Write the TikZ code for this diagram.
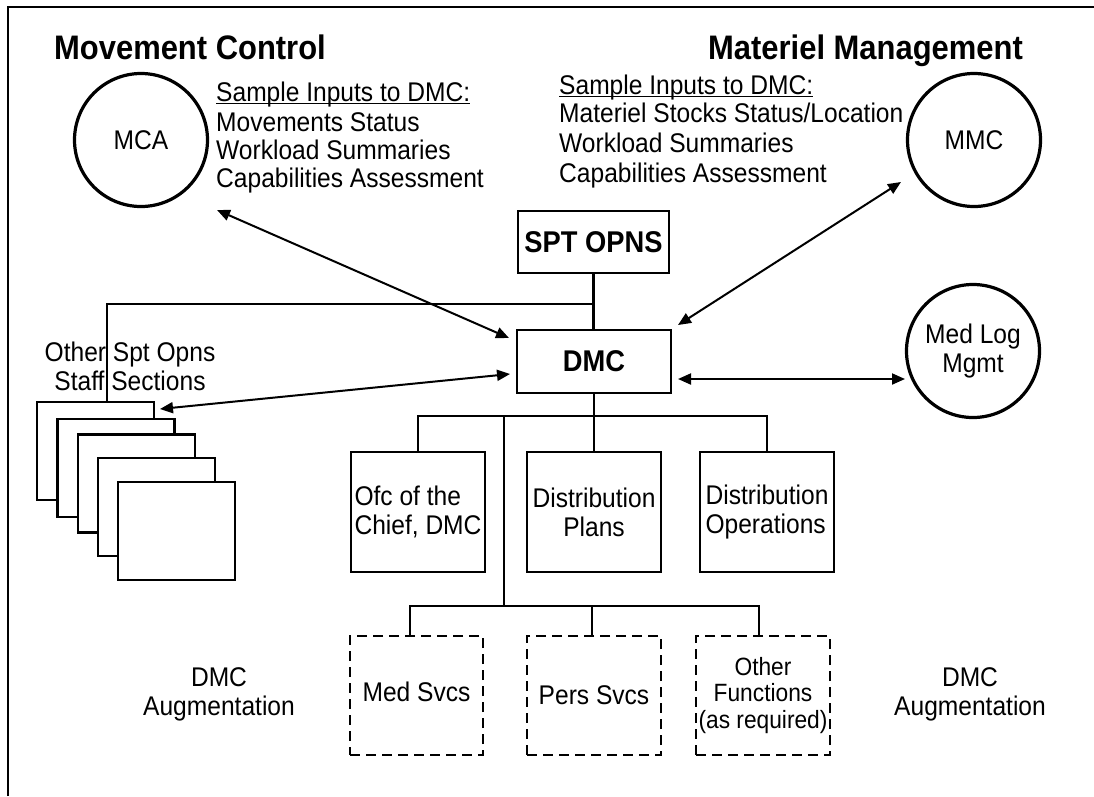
\documentclass[tikz,border=0pt]{standalone}
\usepackage{fontspec}
\setmainfont{Liberation Sans}[FakeStretch=0.91]
\usetikzlibrary{arrows.meta}
\newcommand\bodyf{\fontsize{27pt}{29pt}\selectfont}
\newcommand\smallf{\fontsize{25pt}{26.5pt}\selectfont}
\newcommand\headf{\fontsize{30pt}{32pt}\selectfont\bfseries}
\newcommand\titlef{\fontsize{34pt}{36pt}\selectfont\bfseries}
\newcommand\ulx[1]{\setbox0\hbox{#1}\rlap{\rule[-3.2pt]{\wd0}{1.5pt}}\box0}
\begin{document}
\begin{tikzpicture}[x=1pt,y=-1pt,
  txt/.style={inner sep=0pt, font=\bodyf},
  orgbox/.style={draw, line width=2.3pt, inner sep=2pt, minimum width=134pt, minimum height=120pt, font=\bodyf, align=center},
  dashbox/.style={orgbox, minimum height=119pt, dash pattern=on 10pt off 6pt, line width=2.6pt},
  topbox/.style={draw, line width=2.3pt, font=\headf, inner sep=0pt},
  unit/.style={circle, draw, line width=3.2pt, minimum size=133pt, inner sep=0pt, font=\bodyf, align=center},
  staff/.style={draw, fill=white, line width=2.3pt, minimum width=117pt, minimum height=98pt, inner sep=0pt},
  link/.style={line width=2.3pt},
  dbl/.style={line width=2pt, {Triangle[length=13pt,width=11pt]}-{Triangle[length=13pt,width=11pt]}}
]
\useasboundingbox (0,0) rectangle (1094,796);
% frame
\draw[line width=1.4pt] (8,796) -- (8,7) -- (1094,7);

% titles
\node[anchor=base west, inner sep=0pt, font=\titlef] (mvt) at (54,59) {Movement Control};
\node[anchor=base west, inner sep=0pt, font=\titlef] (mat) at (708,59) {Materiel Management};

% sample inputs (left)
\node[txt, anchor=base west] (ls0) at (216,101) {\ulx{Sample Inputs to DMC:}};
\node[txt, anchor=base west] (ls1) at (216,131) {Movements Status};
\node[txt, anchor=base west] (ls2) at (216,159) {Workload Summaries};
\node[txt, anchor=base west] (ls3) at (216,187) {Capabilities Assessment};
% sample inputs (right)
\node[txt, anchor=base west] (rs0) at (559,94) {\ulx{Sample Inputs to DMC:}};
\node[txt, anchor=base west] (rs1) at (559,122) {Materiel Stocks Status/Location};
\node[txt, anchor=base west] (rs2) at (559,152) {Workload Summaries};
\node[txt, anchor=base west] (rs3) at (559,182) {Capabilities Assessment};

% circles
\node[unit] (mca) at (141,140) {MCA};
\node[unit] (mmc) at (974,140) {MMC};
\node[unit] (mlm) at (973,351) {Med Log\\Mgmt};

% central boxes
\node[topbox, minimum width=151pt, minimum height=62pt] (spt) at (593.5,242) {SPT OPNS};
\node[topbox, minimum width=154pt, minimum height=63pt] (dmc) at (594,361.5) {DMC};

% connectors top
\coordinate (j1) at (593.5,304);
\coordinate (s1top) at (107,402);
\draw[link] (spt.south) -- (spt.south |- dmc.north);
\draw[link] (j1) -| (s1top);

% staff sections stack
\node[txt, align=center] (stt) at (130,366) {Other Spt Opns\\Staff Sections};
\node[staff] (s1) at (95.5,451) {};
\node[staff] (s2) at (116,468) {};
\node[staff] (s3) at (136.5,483.5) {};
\node[staff] (s4) at (156.5,507) {};
\node[staff] (s5) at (176.5,531) {};

% org boxes
\node[orgbox, align=left] (ofc) at (418,512) {Ofc of the\\Chief, DMC};
\node[orgbox] (dplan) at (594,512) {Distribution\\Plans};
\node[orgbox, align=left] (dops) at (767,512) {Distribution\\Operations};

% dashed boxes
\node[dashbox, minimum width=133pt] (med) at (416.5,695.5) {\raisebox{7pt}{Med Svcs}};
\node[dashbox] (pers) at (594,695.5) {Pers Svcs};
\node[dashbox, font=\smallf] (oth) at (763,695.5) {Other\\Functions\\(as required)};

% augmentation labels
\node[txt, align=center] (augl) at (219,694) {DMC\\Augmentation};
\node[txt, align=center] (augr) at (970,694) {DMC\\Augmentation};

% lower tree
\coordinate (b1) at (594,416);
\coordinate (b2) at (504,416);
\coordinate (b3) at (504,606);
\draw[link] (dmc.south) -- (dmc.south |- b1);
\draw[link] (ofc.north) |- (b1) -| (dops.north);
\draw[link] (dplan.north) -- (dplan.north |- b1);
\draw[link] (b2) -- (b3);
\draw[link] ([xshift=-6.5pt]med.north) |- (b3) -| ([xshift=-4pt]oth.north);
\draw[link] ([xshift=-2pt]pers.north) -- ([xshift=-2pt]pers.north |- b3);

% arrows
\coordinate (a1) at (217,210); \coordinate (a2) at (509,338);
\coordinate (a3) at (160,409); \coordinate (a4) at (510,374);
\coordinate (a5) at (901,182); \coordinate (a6) at (678,325);
\coordinate (a7) at (678,379); \coordinate (a8) at (905,379);
\draw[dbl] (a1) -- (a2);
\draw[dbl] (a3) -- (a4);
\draw[dbl] (a5) -- (a6);
\draw[dbl] (a7) -- (a8);
\end{tikzpicture}
\end{document}
